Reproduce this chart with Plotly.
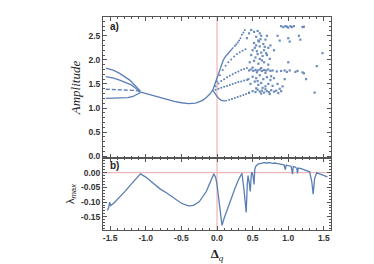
import plotly.graph_objects as go

BLUE = "#5b7fb5"
PINK = "#eaa6a6"

# ---- panel a) : bifurcation branches (x = detuning, y = amplitude) ----
br1_x = [-1.56, -1.45, -1.366, -1.30, -1.225, -1.17, -1.133, -1.10, -1.075]
br1_y = [1.83, 1.78, 1.72, 1.66, 1.58, 1.50, 1.446, 1.39, 1.35]
br2_x = [-1.56, -1.45, -1.366, -1.28, -1.203, -1.15, -1.109, -1.075]
br2_y = [1.65, 1.62, 1.58, 1.53, 1.48, 1.42, 1.375, 1.34]
br3_x = [-1.56, -1.45, -1.35, -1.25, -1.15, -1.10, -1.07]
br3_y = [1.39, 1.385, 1.38, 1.375, 1.365, 1.35, 1.335]
br4_x = [-1.56, -1.45, -1.35, -1.25, -1.18, -1.14, -1.10, -1.07]
br4_y = [1.20, 1.20, 1.205, 1.215, 1.24, 1.27, 1.30, 1.325]
main_x = [-1.07, -1.0, -0.9, -0.8, -0.7, -0.6, -0.5, -0.4, -0.3, -0.2, -0.15, -0.1, -0.06]
main_y = [1.33, 1.30, 1.26, 1.22, 1.18, 1.14, 1.11, 1.09, 1.10, 1.16, 1.22, 1.29, 1.37]
up_x = [-0.06, -0.03, -0.01, 0.02, 0.04, 0.07, 0.09, 0.12, 0.16, 0.19, 0.23]
up_y = [1.37, 1.50, 1.60, 1.74, 1.83, 1.94, 2.00, 2.07, 2.14, 2.20, 2.26]
low_x = [-0.06, -0.03, 0.0, 0.03, 0.06, 0.10, 0.14]
low_y = [1.37, 1.30, 1.24, 1.19, 1.16, 1.15, 1.155]
fan_x = [0.25, 0.27, 0.29, 0.31, 0.33, 0.35, 0.37, 0.39,
         0.00, 0.04, 0.08, 0.12, 0.16, 0.20, 0.24, 0.28, 0.32, 0.36, 0.40,
         -0.02, 0.02, 0.06, 0.10, 0.14, 0.18, 0.22, 0.26, 0.30, 0.34, 0.38, 0.42,
         -0.02, 0.02, 0.06, 0.10, 0.14, 0.18, 0.22, 0.26, 0.30, 0.34, 0.38, 0.42,
         0.17, 0.21, 0.25, 0.29, 0.33, 0.37, 0.41, 0.45]
fan_y = [2.29, 2.32, 2.36, 2.40, 2.45, 2.52, 2.57, 2.62,
         1.55, 1.68, 1.79, 1.88, 1.95, 2.01, 2.07, 2.12, 2.16, 2.19, 2.22,
         1.45, 1.51, 1.56, 1.60, 1.64, 1.67, 1.70, 1.73, 1.76, 1.79, 1.81, 1.83,
         1.38, 1.40, 1.42, 1.44, 1.46, 1.48, 1.50, 1.52, 1.54, 1.55, 1.57, 1.58,
         1.17, 1.19, 1.21, 1.23, 1.25, 1.27, 1.29, 1.31]
chaos_x = [0.42, 0.45, 0.48, 0.52, 0.55, 0.57, 0.60, 0.62, 0.58, 0.52, 0.55, 0.60, 0.65, 0.68, 0.70,
           0.50, 0.56, 0.62, 0.66, 0.72, 0.75, 0.48, 0.54, 0.60, 0.64, 0.70, 0.74, 0.46, 0.52, 0.58,
           0.66, 0.72, 0.53, 0.59, 0.63, 0.69, 0.57, 0.61, 0.67,
           0.45, 0.48, 0.51, 0.54, 0.57, 0.60, 0.63, 0.66, 0.69, 0.72, 0.75, 0.78, 0.84, 0.90, 0.95,
           0.98, 1.02, 0.50, 0.56, 0.62, 0.68,
           0.44, 0.50, 0.55, 0.60, 0.65, 0.70, 0.75, 0.80, 0.47, 0.53, 0.58, 0.62, 0.68, 0.72, 0.78,
           0.85, 0.57, 0.64, 0.76,
           0.45, 0.50, 0.54, 0.57, 0.60, 0.63, 0.66, 0.70, 0.73, 0.76, 0.80, 0.83, 0.86, 0.88,
           0.55, 0.62, 0.68, 0.74,
           0.90, 0.93, 0.96, 0.98, 1.00, 1.03, 1.05, 1.08, 1.20, 1.22, 1.00, 1.02, 1.15, 1.17, 0.85,
           0.88, 0.80, 1.00, 0.95, 0.92, 0.90, 1.10, 1.13, 1.20, 1.25, 1.22, 1.40, 1.48, 1.37]
chaos_y = [2.45, 2.55, 2.62, 2.58, 2.48, 2.60, 2.55, 2.50, 2.40, 2.35, 2.30, 2.28, 2.33, 2.42, 2.50,
           2.20, 2.18, 2.15, 2.20, 2.25, 2.30, 2.10, 2.05, 2.02, 2.08, 2.10, 2.02, 1.95, 1.98, 1.92,
           1.95, 1.90, 2.25, 2.38, 1.99, 2.14, 2.12, 2.43, 2.27,
           1.78, 1.80, 1.77, 1.79, 1.78, 1.80, 1.77, 1.79, 1.78, 1.80, 1.77, 1.78, 1.76, 1.77, 1.78,
           1.75, 1.78, 1.84, 1.74, 1.83, 1.73,
           1.60, 1.65, 1.62, 1.68, 1.60, 1.64, 1.58, 1.62, 1.50, 1.55, 1.48, 1.52, 1.45, 1.50, 1.46,
           1.50, 1.56, 1.42, 1.66,
           1.32, 1.35, 1.33, 1.38, 1.34, 1.36, 1.32, 1.35, 1.33, 1.37, 1.34, 1.36, 1.31, 1.40,
           1.41, 1.30, 1.39, 1.29,
           2.70, 2.68, 2.70, 2.69, 2.67, 2.70, 2.68, 2.70, 2.68, 2.69, 2.45, 2.38, 2.50, 2.42, 2.50,
           2.40, 2.20, 1.95, 1.60, 1.45, 1.35, 1.75, 1.77, 1.74, 1.60, 1.72, 1.87, 2.14, 1.32]

# ---- panel b) : maximal Lyapunov exponent ----
lam_x = [-1.54, -1.52, -1.506, -1.495, -1.45, -1.4, -1.3, -1.2, -1.12, -1.074, -1.0, -0.9, -0.8,
         -0.7, -0.6, -0.5, -0.42, -0.386, -0.33, -0.25, -0.15, -0.08, -0.045, -0.02, 0.0, 0.03,
         0.07, 0.1, 0.15, 0.2, 0.25, 0.3, 0.35, 0.38, 0.41, 0.425, 0.435, 0.45, 0.467, 0.48, 0.49,
         0.505, 0.52, 0.53, 0.54, 0.56, 0.58, 0.62, 0.66, 0.7, 0.74, 0.78, 0.81, 0.85, 0.9, 0.94,
         0.96, 0.97, 0.98, 1.0, 1.04, 1.06, 1.07, 1.09, 1.12, 1.13, 1.14, 1.18, 1.22, 1.26, 1.3,
         1.33, 1.35, 1.37, 1.4, 1.42, 1.46, 1.5, 1.55]
lam_y = [-0.129, -0.118, -0.100, -0.112, -0.104, -0.092, -0.066, -0.038, -0.016, -0.004, -0.015,
         -0.035, -0.055, -0.07, -0.088, -0.104, -0.111, -0.113, -0.111, -0.099, -0.064, -0.025,
         -0.004, -0.015, -0.04, -0.1, -0.179, -0.155, -0.12, -0.085, -0.055, -0.025, -0.002, -0.06,
         -0.135, -0.04, -0.01, -0.03, -0.064, -0.01, 0.002, -0.01, -0.04, 0.01, 0.02, 0.026, 0.03,
         0.032, 0.034, 0.033, 0.034, 0.032, 0.033, 0.031, 0.03, 0.027, 0.01, 0.026, 0.025, 0.024,
         0.022, -0.005, 0.021, 0.02, 0.015, -0.002, 0.016, 0.014, 0.01, 0.006, 0.003, -0.03, -0.073,
         -0.02, 0.0, -0.002, -0.005, -0.01, -0.014]

xticks = [-1.5, -1.0, -0.5, 0.0, 0.5, 1.0, 1.5]
xtick_text = ["-1.5", "-1.0", "-0.5", "0.0", "0.5", "1.0", "1.5"]
amp_ticks = [0.0, 0.5, 1.0, 1.5, 2.0, 2.5]
amp_text = ["0.0", "0.5", "1.0", "1.5", "2.0", "2.5"]
lam_ticks = [-0.15, -0.10, -0.05, 0.00]
lam_text = ["-0.15", "-0.10", "-0.05", "0.00"]

fig = go.Figure()
line_sty = dict(color=BLUE, width=1.3)
for bx, by in [(br1_x, br1_y), (br2_x, br2_y), (br4_x, br4_y), (main_x, main_y),
               (up_x, up_y), (low_x, low_y)]:
    fig.add_trace(go.Scatter(x=bx, y=by, mode="lines", line=line_sty, xaxis="x2", yaxis="y2",
                             showlegend=False, hoverinfo="skip"))
fig.add_trace(go.Scatter(x=br3_x, y=br3_y, mode="lines", line=dict(color=BLUE, width=1.3, dash="4px,2px"),
                         xaxis="x2", yaxis="y2", showlegend=False))
fig.add_trace(go.Scatter(x=fan_x, y=fan_y, mode="markers", marker=dict(color=BLUE, size=2.0, line=dict(width=0)),
                         xaxis="x2", yaxis="y2", showlegend=False))
fig.add_trace(go.Scatter(x=chaos_x, y=chaos_y, mode="markers",
                         marker=dict(color=BLUE, size=2.2, symbol="square", line=dict(width=0), opacity=0.9),
                         xaxis="x2", yaxis="y2", showlegend=False))
fig.add_trace(go.Scatter(x=lam_x, y=lam_y, mode="lines", line=dict(color=BLUE, width=1.3),
                         xaxis="x", yaxis="y", showlegend=False))

tickfont = dict(family="Liberation Sans", size=8.5, color="#333333", weight="bold")
axcommon = dict(range=[-1.6, 1.6], showgrid=False, zeroline=False, showline=True, linecolor="#555555",
                linewidth=1, mirror="allticks", ticks="inside", ticklen=4, tickcolor="#555555",
                tickvals=xticks, ticktext=xtick_text, tickfont=tickfont,
                minor=dict(ticks="inside", ticklen=2, dtick=0.1, tick0=0, tickcolor="#555555"))
fig.update_layout(
    width=374, height=264, paper_bgcolor="white", plot_bgcolor="white",
    margin=dict(l=95, r=51, t=9, b=42),
    xaxis=dict(axcommon, anchor="y", domain=[0, 1],
               title=dict(text="<b>Δ</b><sub><i>q</i></sub>", font=dict(family="Liberation Serif", size=13, color="#222"), standoff=6)),
    yaxis=dict(domain=[0, 0.338], range=[-0.195, 0.05], showgrid=False, zeroline=False, showline=True,
               linecolor="#555555", linewidth=1, mirror="allticks", ticks="inside", ticklen=4,
               tickcolor="#555555", tickvals=lam_ticks, ticktext=lam_text, tickfont=tickfont,
               minor=dict(ticks="inside", ticklen=2, dtick=0.01, tickcolor="#555555"),
               title=dict(text="λ<sub><i>max</i></sub>", font=dict(family="Liberation Sans", size=11, color="#222"), standoff=4)),
    xaxis2=dict(axcommon, anchor="y2", domain=[0, 1], showticklabels=False),
    yaxis2=dict(domain=[0.338, 1], range=[-0.0375, 2.89], showgrid=False, zeroline=False, showline=True,
                linecolor="#555555", linewidth=1, mirror="allticks", ticks="inside", ticklen=4,
                tickcolor="#555555", tickvals=amp_ticks, ticktext=amp_text, tickfont=tickfont,
                minor=dict(ticks="inside", ticklen=2, dtick=0.1, tickcolor="#555555"),
                title=dict(text="<i>Amplitude</i>", font=dict(family="Liberation Serif", size=13, color="#222"), standoff=4)),
    shapes=[
        dict(type="line", xref="x2", yref="y2 domain", x0=0, x1=0, y0=0, y1=1, line=dict(color=PINK, width=1), layer="below"),
        dict(type="line", xref="x", yref="y domain", x0=0, x1=0, y0=0, y1=1, line=dict(color=PINK, width=1), layer="below"),
        dict(type="line", xref="x domain", yref="y", x0=0, x1=1, y0=0, y1=0, line=dict(color=PINK, width=1), layer="below"),
    ],
    annotations=[
        dict(text="<b>a)</b>", xref="x2 domain", yref="y2 domain", x=0.02, y=0.985, xanchor="left", yanchor="top",
             showarrow=False, font=dict(family="Liberation Sans", size=10, color="#222")),
        dict(text="<b>b)</b>", xref="x domain", yref="y domain", x=0.02, y=1.0, xanchor="left", yanchor="top",
             showarrow=False, font=dict(family="Liberation Sans", size=10, color="#222")),
    ],
)
fig.write_html("out.html")
